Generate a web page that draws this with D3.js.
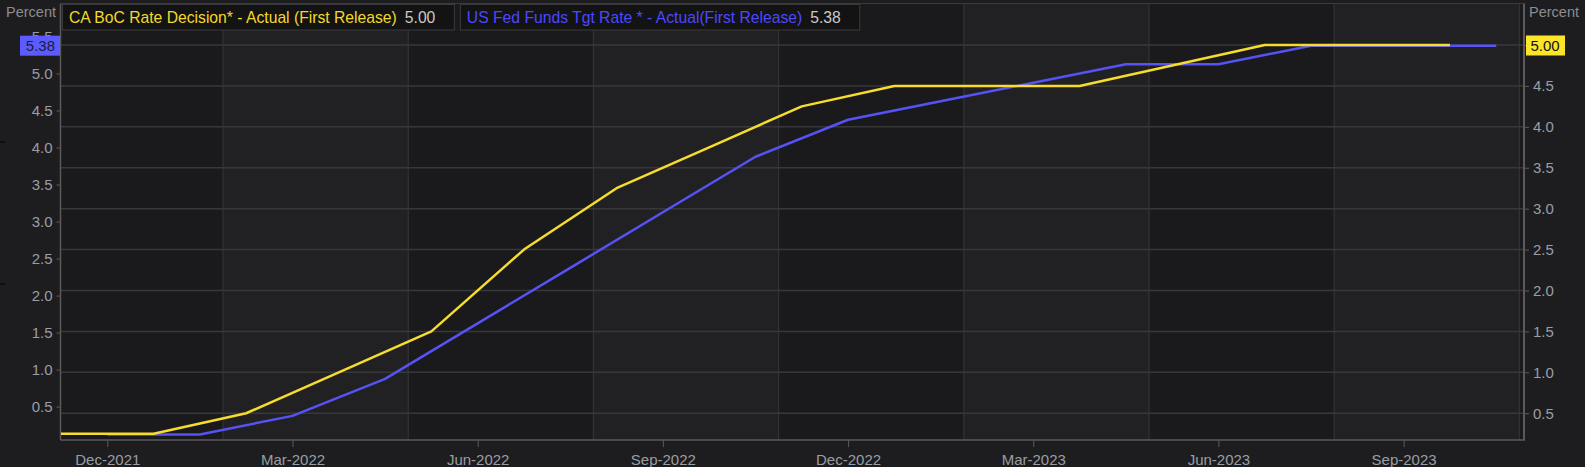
<!DOCTYPE html>
<html>
<head>
<meta charset="utf-8">
<script src="https://cdn.jsdelivr.net/npm/d3@7"></script>
<style>
  html, body { margin: 0; padding: 0; background: #1d1d1f; }
  svg { display: block; }
  text { font-family: "Liberation Sans", Arial, sans-serif; }
</style>
</head>
<body>
<svg id="chart" width="1585" height="467"></svg>
<script>
// ---------------- DATA ----------------
const bocName = "CA BoC Rate Decision* - Actual (First Release)";
const fedName = "US Fed Funds Tgt Rate * - Actual(First Release)";
const bocDates = ["2021-12-08","2022-01-26","2022-03-02","2022-04-13","2022-06-01","2022-07-13","2022-09-07","2022-10-26","2022-12-07","2023-01-25","2023-03-08","2023-04-12","2023-06-07","2023-07-12","2023-09-06","2023-10-25"];
const bocValues = [0.25,0.25,0.50,1.00,1.50,2.50,3.25,3.75,4.25,4.50,4.50,4.50,4.75,5.00,5.00,5.00];
const fedDates = ["2021-12-15","2022-01-26","2022-03-16","2022-05-04","2022-06-15","2022-07-27","2022-09-21","2022-11-02","2022-12-14","2023-02-01","2023-03-22","2023-05-03","2023-06-14","2023-07-26","2023-09-20","2023-11-01"];
const fedValues = [0.125,0.125,0.375,0.875,1.625,2.375,3.125,3.875,4.375,4.625,4.875,5.125,5.125,5.375,5.375,5.375];
const xTickLabels = ["Dec-2021","Mar-2022","Jun-2022","Sep-2022","Dec-2022","Mar-2023","Jun-2023","Sep-2023"];
const leftTicks = [0.5,1.0,1.5,2.0,2.5,3.0,3.5,4.0,4.5,5.0,5.5];
const rightTicks = [0.5,1.0,1.5,2.0,2.5,3.0,3.5,4.0,4.5,5.0];
const bocLast = "5.00";
const fedLast = "5.38";
const axisTitle = "Percent";

// ---------------- LAYOUT ----------------
const W = 1585, H = 467;
const plot = { left: 60.5, right: 1524, top: 3.5, bottom: 440 };
const C = {
  bg: "#1d1d1f", bandDark: "#1a1a1c", bandLight: "#212123",
  grid: "#38383a", vgrid: "#333335", axis: "#5a5a5c",
  tick: "#9a9ea4", title: "#8c8c90",
  yellow: "#f6dc2c", blue: "#5652f6",
  legYellow: "#f2d92a", legBlue: "#4c48ff", legVal: "#c9c9c9",
  legBg: "#131314", legBorder: "#3b3b3d",
  badgeBlue: "#5b5bff", badgeYellow: "#fbe52a"
};

const svg = d3.select("#chart");
svg.append("rect").attr("width", W).attr("height", H).attr("fill", C.bg);

// Combined observation sequence (each release is one equally spaced step)
const parse = d3.timeParse("%Y-%m-%d");
const obs = [];
bocDates.forEach((d, i) => obs.push({ s: "boc", date: parse(d), v: bocValues[i], o: 0 }));
fedDates.forEach((d, i) => obs.push({ s: "fed", date: parse(d), v: fedValues[i], o: 1 }));
obs.sort((a, b) => (a.date - b.date) || (a.o - b.o));
obs.forEach((d, i) => d.idx = i);

const x = d3.scaleLinear().domain([0, 31.6]).range([61, plot.right]);
const yL = d3.scaleLinear().domain([0.125, 5.375]).range([434.4, 45.7]);
const yR = d3.scaleLinear().domain([0.25, 5.0]).range([433.7, 45]);

// tick positions: last observation within each labelled month
const fmtMonth = d3.timeFormat("%b-%Y");
const tickIdx = xTickLabels.map(lbl => {
  const inMonth = obs.filter(o => fmtMonth(o.date) === lbl);
  return inMonth[inMonth.length - 1].idx;
});
// quarter separators halfway between ticks
const sepIdx = tickIdx.map(t => t + 2.5);

// background bands
const bandEdges = [plot.left, ...sepIdx.map(i => x(i)), plot.right];
for (let i = 0; i < bandEdges.length - 1; i++) {
  const x0 = bandEdges[i], x1 = Math.min(bandEdges[i + 1], plot.right);
  svg.append("rect").attr("x", x0).attr("y", plot.top).attr("width", x1 - x0)
    .attr("height", plot.bottom - plot.top)
    .attr("fill", i % 2 === 0 ? C.bandDark : C.bandLight);
}

// vertical separators
svg.append("g").selectAll("line").data(sepIdx.filter(i => x(i) < plot.right - 2)).join("line")
  .attr("x1", d => x(d)).attr("x2", d => x(d))
  .attr("y1", plot.top).attr("y2", plot.bottom)
  .attr("stroke", C.vgrid).attr("stroke-width", 1.2);

// horizontal grid (right axis ticks)
svg.append("g").selectAll("line").data(rightTicks).join("line")
  .attr("x1", plot.left).attr("x2", plot.right)
  .attr("y1", d => yR(d)).attr("y2", d => yR(d))
  .attr("stroke", C.grid).attr("stroke-width", 1.5);

// frame
svg.append("line").attr("x1", plot.left).attr("x2", plot.right).attr("y1", plot.top).attr("y2", plot.top)
  .attr("stroke", "#3a3a3c").attr("stroke-width", 1);

// left axis
const gL = svg.append("g").attr("transform", `translate(${plot.left},0)`)
  .call(d3.axisLeft(yL).tickValues(leftTicks).tickFormat(d3.format(".1f")).tickSize(4).tickPadding(4));
// right axis (label under the last-value badge is hidden, as in the source)
const gR = svg.append("g").attr("transform", `translate(${plot.right},0)`)
  .call(d3.axisRight(yR).tickValues(rightTicks)
    .tickFormat(d => d === 5.0 ? "" : d3.format(".1f")(d)).tickSize(5).tickPadding(4));
// bottom axis
const gB = svg.append("g").attr("transform", `translate(0,${plot.bottom})`)
  .call(d3.axisBottom(x).tickValues(tickIdx).tickFormat((d, i) => xTickLabels[i]).tickSize(7).tickPadding(4));

[gL, gR, gB].forEach(g => {
  g.select(".domain").remove();
  g.selectAll(".tick line").attr("stroke", C.axis);
  g.selectAll(".tick text").attr("fill", C.tick).style("font-size", "15px")
    .style("font-family", '"Liberation Sans", Arial, sans-serif');
});
gB.selectAll(".tick text").attr("dy", "0.92em");

// axis lines
svg.append("line").attr("x1", plot.left).attr("x2", plot.left).attr("y1", plot.top).attr("y2", plot.bottom)
  .attr("stroke", C.axis).attr("stroke-width", 1.5);
svg.append("line").attr("x1", plot.right).attr("x2", plot.right).attr("y1", plot.top).attr("y2", plot.bottom)
  .attr("stroke", C.axis).attr("stroke-width", 2);
svg.append("line").attr("x1", plot.left).attr("x2", plot.right + 1).attr("y1", plot.bottom).attr("y2", plot.bottom)
  .attr("stroke", C.axis).attr("stroke-width", 1.5);

// axis titles
svg.append("text").attr("x", 56).attr("y", 17).attr("text-anchor", "end")
  .attr("fill", C.title).style("font-size", "14.5px").text(axisTitle);
svg.append("text").attr("x", 1529).attr("y", 17)
  .attr("fill", C.title).style("font-size", "14.5px").text(axisTitle);

// lines
const fedObs = obs.filter(o => o.s === "fed");
const bocObs = obs.filter(o => o.s === "boc");
svg.append("path").datum(fedObs)
  .attr("d", d3.line().x(d => x(d.idx)).y(d => yL(d.v)))
  .attr("fill", "none").attr("stroke", C.blue).attr("stroke-width", 2.5).attr("stroke-linejoin", "round");
svg.append("path").datum(bocObs)
  .attr("d", d3.line().x(d => x(d.idx)).y(d => yR(d.v)))
  .attr("fill", "none").attr("stroke", C.yellow).attr("stroke-width", 2.5).attr("stroke-linejoin", "round");

// value badges (the blue one sits over the 5.5 label, as in the source)
const lastFed = fedObs[fedObs.length - 1].v, lastBoc = bocObs[bocObs.length - 1].v;
svg.append("rect").attr("x", 20).attr("y", yL(lastFed) - 10).attr("width", 40).attr("height", 20).attr("fill", C.badgeBlue);
svg.append("text").attr("x", 55).attr("y", yL(lastFed) + 5.5).attr("text-anchor", "end")
  .attr("fill", "#1c1c3a").style("font-size", "15px").text(fedLast);
svg.append("rect").attr("x", 1526).attr("y", yR(lastBoc) - 9.5).attr("width", 39).attr("height", 20).attr("fill", C.badgeYellow);
svg.append("text").attr("x", 1530.5).attr("y", yR(lastBoc) + 5.5)
  .attr("fill", "#111").style("font-size", "15px").text(bocLast);

// legends
function legend(x0, name, col, val) {
  const g = svg.append("g");
  const bg = g.append("rect").attr("x", x0).attr("y", 4.5).attr("height", 25.5)
    .attr("fill", C.legBg).attr("stroke", C.legBorder).attr("stroke-width", 1);
  const t = g.append("text").attr("x", x0 + 6.5).attr("y", 22.5).attr("fill", col)
    .style("font-size", "15.7px").text(name);
  const tw = t.node().getComputedTextLength();
  const v = g.append("text").attr("x", x0 + 6.5 + tw + 8).attr("y", 22.5).attr("fill", C.legVal)
    .style("font-size", "15.7px").text(val);
  const vw = v.node().getComputedTextLength();
  const w = 6.5 + tw + 8 + vw + 19;
  bg.attr("width", w);
  return x0 + w;
}
const e1 = legend(62.5, bocName, C.legYellow, bocLast);
legend(e1 + 6, fedName, C.legBlue, fedLast);

// small marks at far left edge
[142, 284].forEach(yy => svg.append("line").attr("x1", 0).attr("x2", 5).attr("y1", yy).attr("y2", yy)
  .attr("stroke", "#000").attr("stroke-width", 1));
</script>
</body>
</html>
